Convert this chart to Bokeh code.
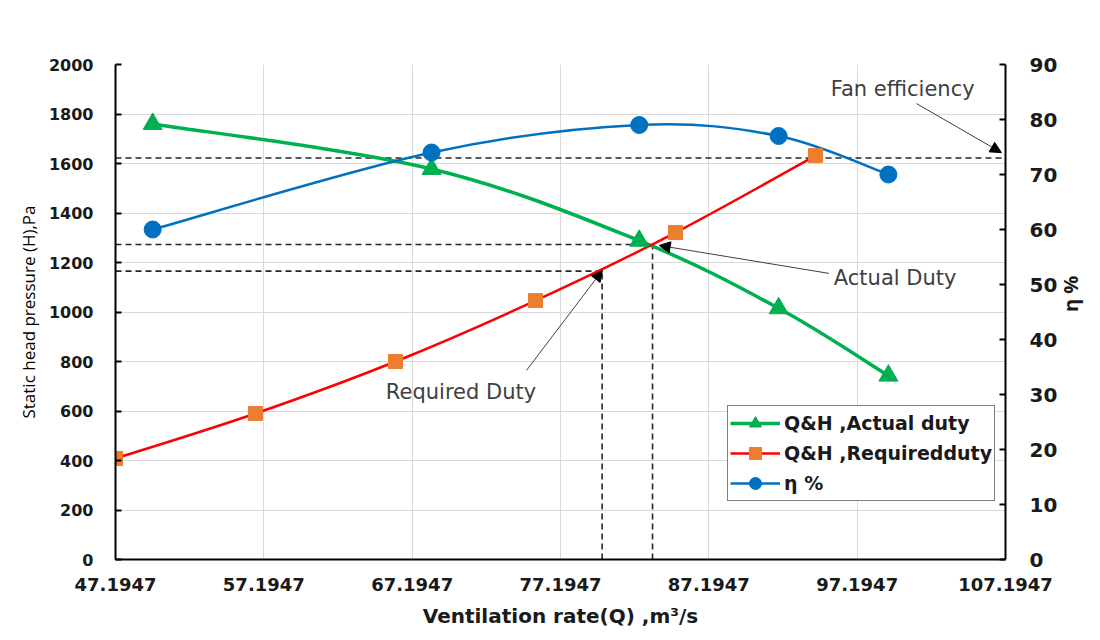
import math
from bokeh.plotting import figure
from bokeh.models import (Range1d, LinearAxis, FixedTicker, Legend, LegendItem,
                          Arrow, NormalHead, ColumnDataSource)
from bokeh.core.properties import value
from bokeh.embed import file_html
from bokeh.resources import INLINE

# ---------------- data ----------------
x_tick_labels = ["47.1947", "57.1947", "67.1947", "77.1947", "87.1947", "97.1947", "107.1947"]
x_ticks = [float(s) for s in x_tick_labels]
h_ticks = [0, 200, 400, 600, 800, 1000, 1200, 1400, 1600, 1800, 2000]
eff_ticks = [0, 10, 20, 30, 40, 50, 60, 70, 80, 90]

q_actual = [49.7, 68.5, 82.5, 91.9, 99.3]
h_actual = [1760, 1578, 1288, 1015, 743]

q_required = [47.1947, 56.63, 66.07, 75.51, 84.95, 94.39]
h_required = [408, 590, 800, 1046, 1321, 1632]

q_eff = [49.7, 68.5, 82.5, 91.9, 99.3]
eff = [60, 74, 79, 77, 70]

actual_duty_q, actual_duty_h = 83.4, 1273
required_duty_q, required_duty_h = 80.0, 1165
fan_eff_value = 73

ann_texts = ["Fan efficiency", "Actual Duty", "Required Duty"]
ann_x = [95.42, 95.62, 65.42]
ann_y = [1903, 1139, 675]
arrow_start_x = [101.2, 95.29, 74.9]
arrow_start_y = [1842, 1156, 764]
arrow_end_x = [106.92, 83.85, 80.02]
arrow_end_y = [1644, 1269, 1168]

x_label = "Ventilation rate(Q) ,m³/s"
y_label = "Static head pressure (H),Pa"
y2_label = "η %"

GREEN = "#00B050"
RED = "#FF0000"
ORANGE = "#ED7D31"
BLUE = "#0070C0"
TXT = "#1a1a1a"


def bezier_source(xs, ys):
    """Excel-like smooth line: cubic Bezier segments through the data points."""
    n = len(xs)
    d = dict(x0=[], y0=[], x1=[], y1=[], cx0=[], cy0=[], cx1=[], cy1=[])
    for i in range(n - 1):
        i0 = max(i - 1, 0)
        i3 = min(i + 2, n - 1)
        d["x0"].append(xs[i]); d["y0"].append(ys[i])
        d["x1"].append(xs[i + 1]); d["y1"].append(ys[i + 1])
        d["cx0"].append(xs[i] + (xs[i + 1] - xs[i0]) / 6.0)
        d["cy0"].append(ys[i] + (ys[i + 1] - ys[i0]) / 6.0)
        d["cx1"].append(xs[i + 1] - (xs[i3] - xs[i]) / 6.0)
        d["cy1"].append(ys[i + 1] - (ys[i3] - ys[i]) / 6.0)
    return ColumnDataSource(d)


W, H = 1100, 640
p = figure(width=W, height=H,
           x_range=Range1d(x_ticks[0], x_ticks[-1]),
           y_range=Range1d(h_ticks[0], h_ticks[-1]),
           output_backend="svg", toolbar_location=None,
           min_border_left=115, min_border_right=W - 1007,
           min_border_top=64, min_border_bottom=H - 559)
p.extra_y_ranges = {"eff": Range1d(eff_ticks[0], eff_ticks[-1])}
p.outline_line_color = None
p.background_fill_color = "white"
p.border_fill_color = "white"

# grid
p.xgrid.ticker = FixedTicker(ticks=x_ticks)
p.ygrid.ticker = FixedTicker(ticks=h_ticks)
for g in (p.xgrid, p.ygrid):
    g.grid_line_color = "#D9D9D9"
    g.grid_line_width = 1

# x axis
xa = p.xaxis[0]
xa.ticker = FixedTicker(ticks=x_ticks)
xa.major_label_overrides = {t: s for t, s in zip(x_ticks, x_tick_labels)}
xa.axis_label = x_label

# left axis
ya = p.yaxis[0]
ya.ticker = FixedTicker(ticks=h_ticks)
ya.axis_label = y_label

# right axis
yr = LinearAxis(y_range_name="eff", ticker=FixedTicker(ticks=eff_ticks), axis_label=y2_label)
p.add_layout(yr, "right")

for ax in (xa, ya, yr):
    ax.axis_line_color = "black"
    ax.axis_line_width = 2
    ax.major_tick_line_color = "black"
    ax.major_tick_line_width = 2
    ax.major_tick_out = 0
    ax.major_tick_in = 6
    ax.minor_tick_line_color = None
    ax.major_label_text_font = "DejaVu Sans"
    ax.major_label_text_font_style = "bold"
    ax.major_label_text_color = TXT
    ax.axis_label_text_color = TXT

xa.major_tick_in = 0
xa.major_label_text_font_size = "18px"
xa.major_label_standoff = 18
xa.axis_label_text_font = "DejaVu Sans"
xa.axis_label_text_font_size = "20px"
xa.axis_label_text_font_style = "bold"
xa.axis_label_standoff = 10

ya.major_label_text_font_size = "16px"
ya.major_label_standoff = 22
ya.axis_label_text_font = "Open Sans"
ya.axis_label_text_font_size = "17px"
ya.axis_label_text_font_style = "normal"
ya.axis_label_text_color = "black"
ya.axis_label_standoff = 6

yr.major_label_text_font_size = "20px"
yr.major_label_standoff = 24
yr.axis_label_text_font = "Open Sans"
yr.axis_label_text_font_size = "20px"
yr.axis_label_text_font_style = "bold"
yr.axis_label_standoff = 10
try:
    yr.axis_label_orientation = math.pi / 2
except Exception:
    pass

# dashed guide lines
dash = dict(line_color="#262626", line_width=1.6, line_dash="6 4")
p.line(x=[x_ticks[0], actual_duty_q], y=[actual_duty_h, actual_duty_h], **dash)
p.line(x=[actual_duty_q, actual_duty_q], y=[h_ticks[0], actual_duty_h], **dash)
p.line(x=[x_ticks[0], required_duty_q], y=[required_duty_h, required_duty_h], **dash)
p.line(x=[required_duty_q, required_duty_q], y=[h_ticks[0], required_duty_h], **dash)
p.line(x=[x_ticks[0], x_ticks[-1]], y=[fan_eff_value, fan_eff_value], y_range_name="eff", **dash)

# series
bz = dict(x0="x0", y0="y0", x1="x1", y1="y1", cx0="cx0", cy0="cy0", cx1="cx1", cy1="cy1")
g_line = p.bezier(source=bezier_source(q_actual, h_actual), line_color=GREEN, line_width=3.5, **bz)
r_line = p.bezier(source=bezier_source(q_required, h_required), line_color=RED, line_width=2.5, **bz)
b_line = p.bezier(source=bezier_source(q_eff, eff), line_color=BLUE, line_width=2.5,
                  y_range_name="eff", **bz)

g_pts = p.scatter(q_actual, h_actual, marker="triangle", size=19, fill_color=GREEN, line_color=GREEN)
r_pts = p.scatter(q_required, h_required, marker="square", size=14, fill_color=ORANGE, line_color=ORANGE)
b_pts = p.scatter(q_eff, eff, marker="circle", size=17, fill_color=BLUE, line_color=BLUE,
                  y_range_name="eff")

# annotations
for xs, ys, xe, ye in zip(arrow_start_x, arrow_start_y, arrow_end_x, arrow_end_y):
    p.add_layout(Arrow(x_start=xs, y_start=ys, x_end=xe, y_end=ye,
                       line_color="#404040", line_width=1,
                       end=NormalHead(size=11, fill_color="black", line_color="black")))

p.text(x=ann_x, y=ann_y, text=ann_texts, text_font=value("DejaVu Sans"), text_font_size="21px",
       text_color="#404040", text_baseline="middle", text_align="left")

legend = Legend(items=[
    LegendItem(label="Q&H ,Actual duty", renderers=[g_line, g_pts]),
    LegendItem(label="Q&H ,Requiredduty", renderers=[r_line, r_pts]),
    LegendItem(label="η %", renderers=[b_line, b_pts]),
], location=(612, 58))
legend.label_text_font = "DejaVu Sans"
legend.label_text_font_style = "bold"
legend.label_text_font_size = "19px"
legend.label_text_color = TXT
legend.glyph_width = 50
legend.glyph_height = 30
legend.label_height = 30
legend.label_standoff = 4
legend.spacing = -1
legend.padding = 2
legend.margin = 0
legend.border_line_color = "black"
legend.border_line_width = 1.2
legend.background_fill_color = "white"
legend.background_fill_alpha = 1
p.add_layout(legend)

open("out.html", "w").write(file_html(p, INLINE))
